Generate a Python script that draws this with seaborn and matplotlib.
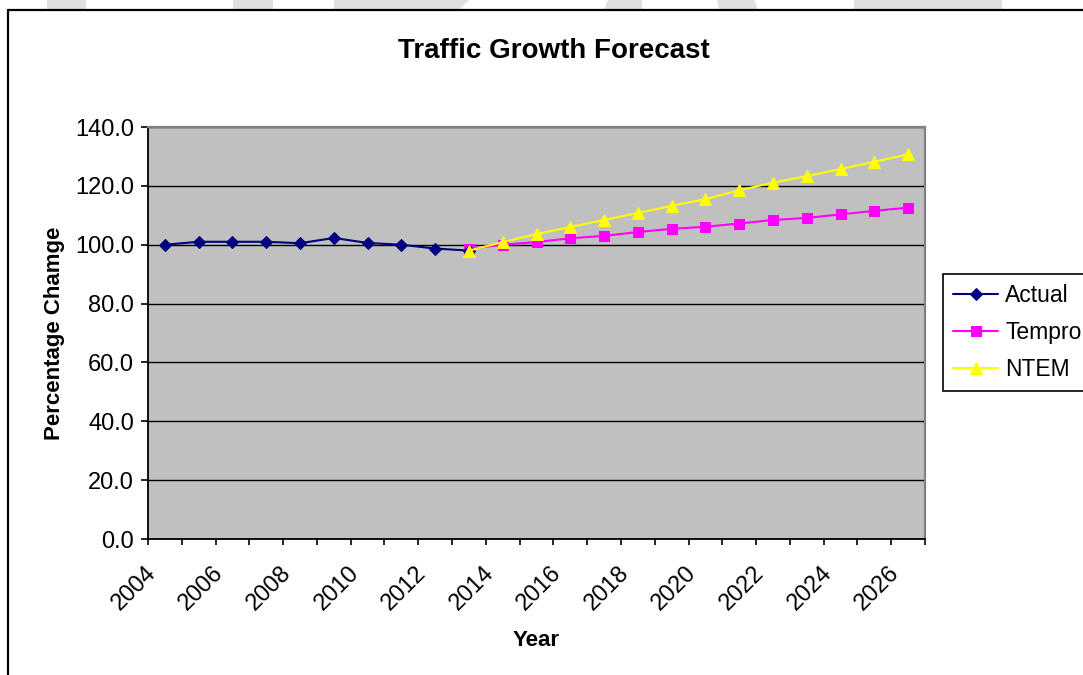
import matplotlib
matplotlib.use("Agg")
import matplotlib.pyplot as plt
import matplotlib.transforms as mtransforms
import seaborn as sns
import numpy as np
import pandas as pd
from matplotlib.patches import Polygon
from matplotlib.lines import Line2D
from matplotlib.ticker import FixedLocator, FuncFormatter

# ---- data ----
years = list(range(2004, 2027))
actual_years = list(range(2004, 2014))
actual_vals = [100.0, 101.0, 101.0, 101.0, 100.5, 102.3, 100.6, 100.0, 98.7, 98.0]
forecast_years = list(range(2013, 2027))
tempro_vals = [98.6, 100.0, 100.9, 102.2, 103.0, 104.3, 105.4, 106.1, 107.2, 108.4,
               109.1, 110.3, 111.5, 112.6]
ntem_vals = [98.0, 100.9, 103.6, 106.0, 108.4, 110.8, 113.2, 115.5, 118.5, 121.1,
             123.3, 125.7, 128.2, 130.7]
xtick_labels = [str(y) for y in range(2004, 2027, 2)]
yticks = [0, 20, 40, 60, 80, 100, 120, 140]

title_text = "Traffic Growth Forecast"
xlabel_text = "Year"
ylabel_text = "Percentage Chamge"

sns.set_style("white")
plt.rcParams['font.family'] = ['Liberation Sans', 'DejaVu Sans']
plt.rcParams['text.color'] = 'black'
plt.rcParams['axes.labelcolor'] = 'black'
plt.rcParams['xtick.color'] = 'black'
plt.rcParams['ytick.color'] = 'black'

W, H = 1083, 675
fig = plt.figure(figsize=(W / 100, H / 100), dpi=100)
fig.patch.set_facecolor("white")

def fx(px):
    return px / W

def fy(py):
    return 1 - py / H

ax = fig.add_axes([fx(148), fy(539), fx(925) - fx(148), fy(127) - fy(539)])
ax.set_facecolor("#C0C0C0")

df_a = pd.DataFrame({"year": actual_years, "value": actual_vals})
df_t = pd.DataFrame({"year": forecast_years, "value": tempro_vals})
df_n = pd.DataFrame({"year": forecast_years, "value": ntem_vals})

sns.lineplot(data=df_a, x="year", y="value", ax=ax, color="#000080", marker="D",
             markersize=6.3, markeredgecolor="#000080", linewidth=1.5, label="Actual", zorder=5)
sns.lineplot(data=df_t, x="year", y="value", ax=ax, color="#FF00FF", marker="s",
             markersize=7.2, markeredgecolor="#FF00FF", linewidth=1.5, label="Tempro", zorder=4)
sns.lineplot(data=df_n, x="year", y="value", ax=ax, color="#FFFF00", marker="^",
             markersize=8.8, markeredgecolor="#FFFF00", linewidth=1.5, label="NTEM", zorder=6)

ax.set_xlim(years[0] - 0.5, years[-1] + 0.5)
ax.set_ylim(0, 140)

# y axis
ax.set_yticks(yticks)
ax.yaxis.set_major_formatter(FuncFormatter(lambda v, p: f"{v:.1f}"))
ax.tick_params(axis="y", which="major", direction="out", length=5, width=1.2,
               color="black", labelsize=17, pad=5, left=True, labelcolor="black")
ax.yaxis.grid(True, color="black", linewidth=1.0)
ax.set_axisbelow(True)

# x axis: labels at every other year, tick marks at category boundaries
ax.xaxis.set_major_locator(FixedLocator(list(range(2004, 2027, 2))))
ax.set_xticklabels(xtick_labels)
ax.xaxis.set_minor_locator(FixedLocator([y - 0.5 for y in years] + [years[-1] + 0.5]))
ax.tick_params(axis="x", which="major", length=0, labelsize=17, pad=12, bottom=True,
               labelcolor="black")
ax.tick_params(axis="x", which="minor", direction="out", length=4.5, width=1.2,
               color="black", bottom=True)
offset = mtransforms.ScaledTranslation(-20 / 100, -6 / 100, fig.dpi_scale_trans)
for lab in ax.get_xticklabels():
    lab.set_rotation(45)
    lab.set_ha("right")
    lab.set_va("top")
    lab.set_rotation_mode("anchor")
    lab.set_transform(lab.get_transform() + offset)

ax.set_xlabel(xlabel_text, fontsize=16, fontweight="bold", labelpad=11)
ax.set_ylabel(ylabel_text, fontsize=16, fontweight="bold", labelpad=7)

for s in ["left", "bottom"]:
    ax.spines[s].set_color("black")
    ax.spines[s].set_linewidth(1.3)
for s in ["top", "right"]:
    ax.spines[s].set_color("#808080")
    ax.spines[s].set_linewidth(1.6)

# legend
handles, labels = ax.get_legend_handles_labels()
ax.get_legend().remove()
leg = fig.legend(handles, labels, loc="upper left",
                 bbox_to_anchor=(fx(943), fy(274)), bbox_transform=fig.transFigure,
                 fontsize=16.5, frameon=True, fancybox=False, shadow=False,
                 borderpad=0.42, labelspacing=0.63, handlelength=2.0,
                 handletextpad=0.3, borderaxespad=0)
leg.get_frame().set_edgecolor("black")
leg.get_frame().set_linewidth(1.2)
leg.get_frame().set_facecolor("white")
leg.get_frame().set_alpha(1)

# title
fig.text(fx(554), fy(51), title_text, ha="center", va="center",
         fontsize=20, fontweight="bold", color="black")

# chart area border
fig.add_artist(Line2D([fx(8), fx(8)], [fy(10), 0], transform=fig.transFigure,
                      color="black", linewidth=1.6))
fig.add_artist(Line2D([fx(8), 1], [fy(10), fy(10)], transform=fig.transFigure,
                      color="black", linewidth=1.6))

# light grey watermark slivers at top
shapes = [
    [(47, 0), (86, 0), (86, 9), (47, 9)],
    [(233, 0), (273, 0), (273, 9), (233, 9)],
    [(334, 0), (469, 0), (460, 9), (334, 9)],
    [(608, 0), (642, 0), (642, 9), (604, 9)],
    [(717, 0), (754, 0), (758, 9), (719, 9)],
    [(854, 0), (1002, 0), (1002, 9), (854, 9)],
]
for shp in shapes:
    fig.add_artist(Polygon([(fx(x), fy(y)) for x, y in shp], closed=True,
                           transform=fig.transFigure, facecolor="#E0E0E0",
                           edgecolor="none"))

fig.savefig("out.png", dpi=100)
